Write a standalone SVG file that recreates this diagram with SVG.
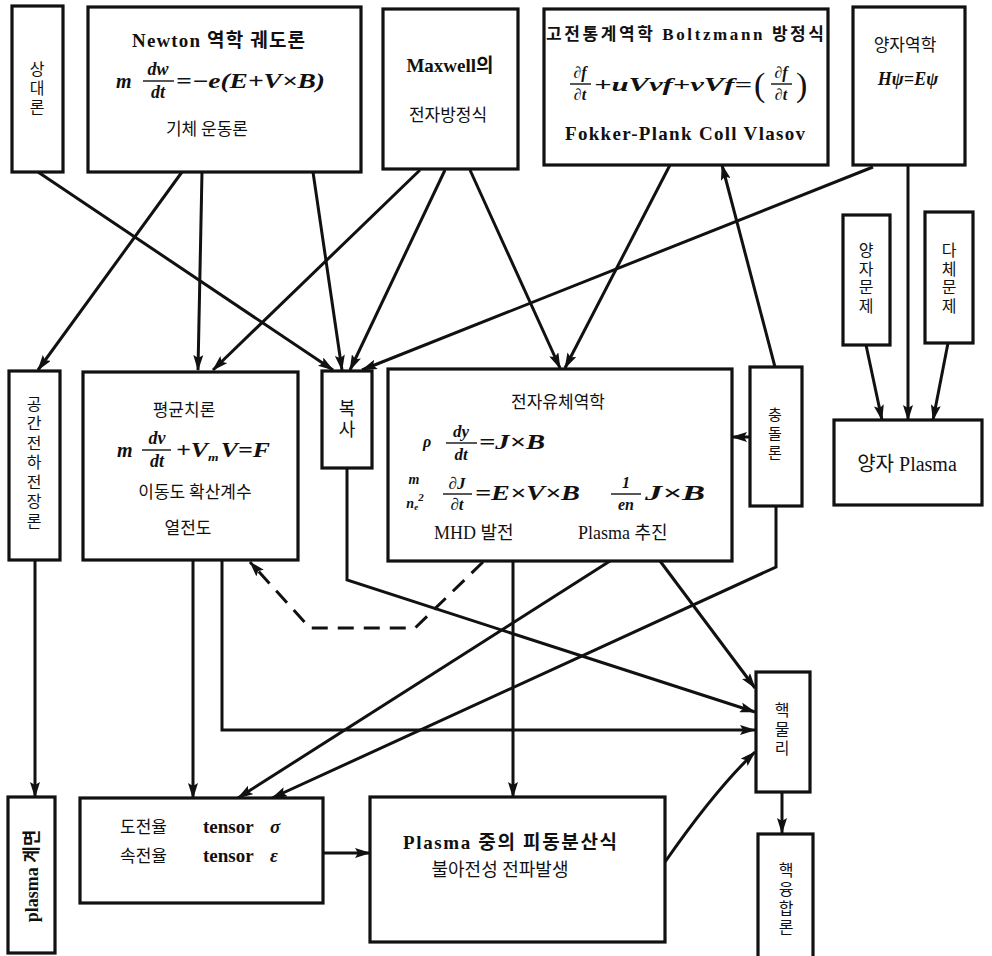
<svg xmlns="http://www.w3.org/2000/svg" width="992" height="956" viewBox="0 0 992 956">
  <defs>
    <marker id="arr" markerUnits="userSpaceOnUse" markerWidth="16" markerHeight="10" refX="15" refY="5" orient="auto">
      <path d="M0,0 L16,5 L0,10 L3,5 z" fill="#111"/>
    </marker>
    <style>
      .box{fill:#fff;stroke:#111;stroke-width:3.2}
      .t{font-family:"Liberation Serif","Noto Sans CJK KR",serif;fill:#111}
      .k{font-family:"Noto Sans CJK KR","Liberation Serif",sans-serif;fill:#111}
      .m{font-family:"Liberation Serif","DejaVu Serif",serif;font-style:italic;font-weight:bold;fill:#111}
      .c{text-anchor:middle}
      .vt{font-family:"Noto Sans CJK KR",sans-serif;fill:#111;writing-mode:vertical-rl;text-orientation:upright;text-anchor:middle}
      .bar{stroke:#111;stroke-width:1.4}
      .ln{fill:none;stroke:#111;stroke-width:3;marker-end:url(#arr)}
      .dash{fill:none;stroke:#111;stroke-width:3;stroke-dasharray:16 10;marker-end:url(#arr)}
    </style>
  </defs>
  <rect width="992" height="956" fill="#fff"/>

  <!-- connectors -->
  <g id="connectors">
    <line class="ln" x1="38" y1="172" x2="333" y2="370"/>
    <line class="ln" x1="182" y1="172" x2="38" y2="370"/>
    <line class="ln" x1="202" y1="172" x2="198" y2="370"/>
    <line class="ln" x1="313" y1="172" x2="342" y2="370"/>
    <line class="ln" x1="420" y1="170" x2="213" y2="370"/>
    <line class="ln" x1="445" y1="170" x2="350" y2="370"/>
    <line class="ln" x1="470" y1="170" x2="560" y2="368"/>
    <line class="ln" x1="670" y1="165" x2="565" y2="368"/>
    <line class="ln" x1="775" y1="367" x2="722" y2="165"/>
    <line class="ln" x1="873" y1="167" x2="362" y2="370"/>
    <line class="ln" x1="908" y1="165" x2="908" y2="420"/>
    <line class="ln" x1="866" y1="345" x2="882" y2="420"/>
    <line class="ln" x1="948" y1="343" x2="933" y2="420"/>
    <line class="ln" x1="749" y1="437" x2="732" y2="437"/>
    <line class="ln" x1="35" y1="560" x2="35" y2="797"/>
    <line class="ln" x1="193" y1="560" x2="193" y2="798"/>
    <polyline class="ln" points="222,560 222,730 755,730"/>
    <polyline class="dash" points="483,562 415,628 310,628 250,562"/>
    <polyline class="ln" points="347,468 347,580 755,712"/>
    <line class="ln" x1="513" y1="561" x2="513" y2="797"/>
    <line class="ln" x1="610" y1="561" x2="238" y2="798"/>
    <polyline class="ln" points="776,507 776,567 272,798"/>
    <line class="ln" x1="660" y1="561" x2="755" y2="688"/>
    <line class="ln" x1="323" y1="853" x2="370" y2="853"/>
    <path class="ln" d="M665,862 Q715,790 755,752"/>
    <line class="ln" x1="782" y1="792" x2="782" y2="833"/>
  </g>

  <!-- 상대론 -->
  <g id="relativity">
    <rect class="box" x="12" y="6" width="51" height="166"/>
    <text class="vt" x="37" y="89" font-size="16" letter-spacing="3">상대론</text>
  </g>

  <!-- Newton 역학 -->
  <g id="newton">
    <rect class="box" x="88" y="7" width="273" height="165"/>
    <text class="t" x="132" y="47" font-size="19" font-weight="bold" textLength="173">Newton 역학 궤도론</text>
    <text class="m" x="116" y="88" font-size="20">m</text>
    <text class="m c" x="158" y="75" font-size="18">dw</text>
    <line class="bar" x1="143" y1="81" x2="174" y2="81"/>
    <text class="m c" x="158" y="98" font-size="18">dt</text>
    <text class="m" x="176" y="88" font-size="21" textLength="149" lengthAdjust="spacingAndGlyphs">=−e(E+V×B)</text>
    <text class="k c" x="207" y="135" font-size="17">기체 운동론</text>
  </g>

  <!-- Maxwell -->
  <g id="maxwell">
    <rect class="box" x="383" y="9" width="135" height="160"/>
    <text class="t c" x="450" y="72" font-size="19" font-weight="bold">Maxwell의</text>
    <text class="k c" x="448" y="121" font-size="17">전자방정식</text>
  </g>

  <!-- 고전통계역학 -->
  <g id="boltzmann">
    <rect class="box" x="544" y="9" width="284" height="156"/>
    <text class="t" x="546" y="40" font-size="17" font-weight="bold" textLength="278">고전통계역학 Boltzmann 방정식</text>
    <text class="m c" x="580" y="78" font-size="16">∂f</text>
    <line class="bar" x1="570" y1="84" x2="591" y2="84"/>
    <text class="m c" x="580" y="100" font-size="16">∂t</text>
    <text class="m" x="594" y="91" font-size="19" textLength="158" lengthAdjust="spacingAndGlyphs">+uVvf+vVf=</text>
    <text class="t" x="754" y="96" font-size="34">(</text>
    <text class="m c" x="781" y="78" font-size="16">∂f</text>
    <line class="bar" x1="771" y1="84" x2="792" y2="84"/>
    <text class="m c" x="781" y="100" font-size="16">∂t</text>
    <text class="t" x="796" y="96" font-size="34">)</text>
    <text class="t" x="565" y="140" font-size="19" font-weight="bold" textLength="240">Fokker-Plank Coll Vlasov</text>
  </g>

  <!-- 양자역학 -->
  <g id="quantum">
    <rect class="box" x="853" y="7" width="112" height="158"/>
    <text class="k c" x="905" y="51" font-size="17">양자역학</text>
    <text class="m c" x="908" y="85" font-size="18">Hψ=Eψ</text>
  </g>

  <!-- 양자문제 -->
  <g id="quantum-problem">
    <rect class="box" x="843" y="215" width="47" height="130"/>
    <text class="vt" x="866" y="279" font-size="16" letter-spacing="2.5">양자문제</text>
  </g>

  <!-- 다체문제 -->
  <g id="many-body">
    <rect class="box" x="925" y="212" width="48" height="131"/>
    <text class="vt" x="949" y="279" font-size="16" letter-spacing="2.5">다체문제</text>
  </g>

  <!-- 양자 Plasma -->
  <g id="quantum-plasma">
    <rect class="box" x="834" y="420" width="148" height="85"/>
    <text class="t c" x="907" y="471" font-size="20">양자 Plasma</text>
  </g>

  <!-- 공간전하전장론 -->
  <g id="space-charge">
    <rect class="box" x="9" y="371" width="51" height="189"/>
    <text class="vt" x="34" y="464" font-size="16" letter-spacing="3.5">공간전하전장론</text>
  </g>

  <!-- 평균치론 -->
  <g id="mean-value">
    <rect class="box" x="83" y="372" width="215" height="188"/>
    <text class="k c" x="184" y="416" font-size="17">평균치론</text>
    <text class="m" x="117" y="457" font-size="20">m</text>
    <text class="m c" x="157" y="444" font-size="18">dv</text>
    <line class="bar" x1="142" y1="450" x2="171" y2="450"/>
    <text class="m c" x="157" y="467" font-size="18">dt</text>
    <text class="m" x="176" y="457" font-size="21" textLength="94" lengthAdjust="spacingAndGlyphs">+V<tspan font-size="11" dy="4">m</tspan><tspan dy="-4" dx="2">V=F</tspan></text>
    <text class="k c" x="195" y="498" font-size="17">이동도 확산계수</text>
    <text class="k c" x="188" y="534" font-size="17">열전도</text>
  </g>

  <!-- 복사 -->
  <g id="radiation">
    <rect class="box" x="322" y="371" width="50" height="97"/>
    <text class="vt" x="347" y="420" font-size="18" letter-spacing="3">복사</text>
  </g>

  <!-- 전자유체역학 -->
  <g id="mhd">
    <rect class="box" x="388" y="369" width="344" height="192"/>
    <text class="k c" x="558" y="408" font-size="17">전자유체역학</text>
    <text class="m" x="423" y="447" font-size="16">ρ</text>
    <text class="m c" x="461" y="437" font-size="17">dy</text>
    <line class="bar" x1="446" y1="443" x2="477" y2="443"/>
    <text class="m c" x="461" y="460" font-size="17">dt</text>
    <text class="m" x="479" y="449" font-size="20" textLength="66" lengthAdjust="spacingAndGlyphs">=J×B</text>
    <text class="m c" x="414" y="484" font-size="14">m</text>
    <text class="m c" x="415" y="508" font-size="14">n<tspan font-size="9" dy="2">e</tspan><tspan font-size="11" dy="-9">2</tspan></text>
    <text class="m c" x="457" y="489" font-size="17">∂J</text>
    <line class="bar" x1="443" y1="494" x2="472" y2="494"/>
    <text class="m c" x="457" y="510" font-size="17">∂t</text>
    <text class="m" x="475" y="500" font-size="20" textLength="105" lengthAdjust="spacingAndGlyphs">=E×V×B</text>
    <text class="m c" x="626" y="488" font-size="16">1</text>
    <line class="bar" x1="611" y1="494" x2="641" y2="494"/>
    <text class="m c" x="626" y="510" font-size="16">en</text>
    <text class="m" x="645" y="500" font-size="20" textLength="60" lengthAdjust="spacingAndGlyphs">J×B</text>
    <text class="t" x="434" y="539" font-size="18">MHD 발전</text>
    <text class="t" x="578" y="539" font-size="18">Plasma 추진</text>
  </g>

  <!-- 충돌론 -->
  <g id="collision">
    <rect class="box" x="750" y="367" width="52" height="139"/>
    <text class="vt" x="775" y="435" font-size="15" letter-spacing="4">충돌론</text>
  </g>

  <!-- 핵물리 -->
  <g id="nuclear">
    <rect class="box" x="756" y="672" width="54" height="120"/>
    <text class="vt" x="782" y="730" font-size="16" letter-spacing="3">핵물리</text>
  </g>

  <!-- 핵융합론 -->
  <g id="fusion">
    <rect class="box" x="758" y="834" width="55" height="130"/>
    <text class="vt" x="786" y="900" font-size="16" letter-spacing="3">핵융합론</text>
  </g>

  <!-- plasma 계면 -->
  <g id="plasma-interface">
    <rect class="box" x="8" y="797" width="47" height="156"/>
    <text class="t c" x="0" y="0" font-size="18" font-weight="bold" transform="translate(38 876) rotate(-90)">plasma 계면</text>
  </g>

  <!-- 도전율 tensor -->
  <g id="conductivity">
    <rect class="box" x="80" y="798" width="243" height="105"/>
    <text class="k" x="120" y="833" font-size="17">도전율</text>
    <text class="t" x="203" y="833" font-size="19" font-weight="bold">tensor</text>
    <text class="m" x="270" y="833" font-size="19">σ</text>
    <text class="k" x="120" y="862" font-size="17">속전율</text>
    <text class="t" x="203" y="862" font-size="19" font-weight="bold">tensor</text>
    <text class="m" x="270" y="862" font-size="19">ε</text>
  </g>

  <!-- Plasma 중의 피동분산식 -->
  <g id="dispersion">
    <rect class="box" x="370" y="797" width="295" height="145"/>
    <text class="t" x="403" y="849" font-size="19" font-weight="bold" textLength="214">Plasma 중의 피동분산식</text>
    <text class="t c" x="500" y="876" font-size="18">불아전성 전파발생</text>
  </g>
</svg>
